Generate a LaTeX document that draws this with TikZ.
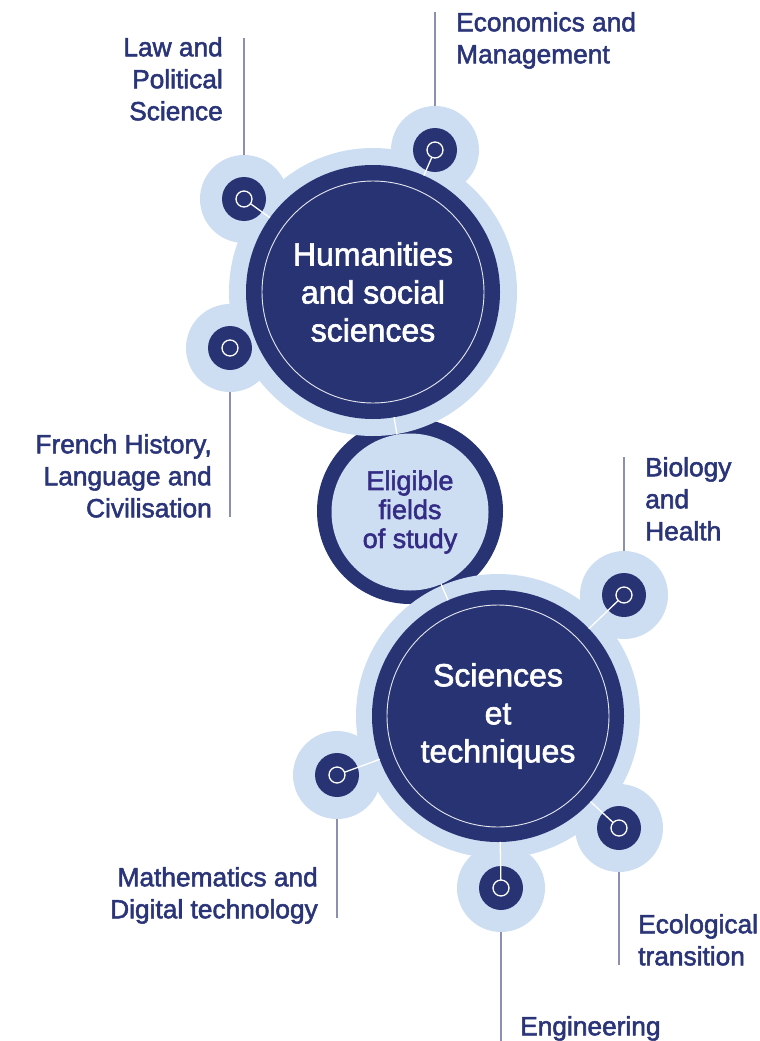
\documentclass[tikz,border=0pt]{standalone}
\usepackage{fontspec}
\setmainfont{Liberation Sans}
\newfontfamily\fieldfont{Liberation Sans}[FakeBold=2]
\usetikzlibrary{positioning}

\definecolor{navy}{RGB}{40,51,116}
\definecolor{paleblue}{RGB}{205,222,243}
\definecolor{leadgrey}{RGB}{138,143,180}
\definecolor{inkblue}{RGB}{42,52,120}
\definecolor{eligink}{RGB}{52,44,132}

\begin{document}
\begin{tikzpicture}[x=1pt, y=-1pt,
    halo/.style={circle, fill=paleblue, inner sep=0pt, outer sep=0pt},
    core/.style={circle, fill=navy, inner sep=0pt, outer sep=0pt},
    dot/.style={circle, draw=white, fill=navy, line width=1.3pt, minimum size=16pt, inner sep=0pt, outer sep=0pt},
    ring/.style={circle, draw=white!88!navy, line width=0.9pt, minimum size=222pt, inner sep=0pt},
    link/.style={draw=white, line width=1.3pt},
    leader/.style={draw=leadgrey, line width=1.6pt},
    field/.style={font=\fieldfont\fontsize{26.3}{32}\selectfont, text=inkblue, inner sep=0pt},
    domaintext/.style={font=\fieldfont\fontsize{32}{38}\selectfont, text=white, align=center}
]
    \useasboundingbox (0,0) rectangle (760,1041);

    % Central circle
    \node[core, minimum size=186pt] (eligout) at (410,511) {};
    \node[halo, minimum size=157pt, align=center, text=eligink,
          font=\fieldfont\fontsize{27}{29}\selectfont] (eligin) at (410,512) {Eligible\\fields\\of study};

    % Halos
    \node[halo, minimum size=288pt] (humhalo) at (373,292) {};
    \node[halo, minimum size=284pt] (scihalo) at (498,716) {};
    \node[halo, minimum size=88pt] (lawhalo) at (244,199) {};
    \node[halo, minimum size=88pt] (ecohalo) at (435,150) {};
    \node[halo, minimum size=88pt] (frhalo) at (230,348) {};
    \node[halo, minimum size=88pt] (biohalo) at (624,595) {};
    \node[halo, minimum size=88pt] (mathhalo) at (337,775) {};
    \node[halo, minimum size=88pt] (enghalo) at (501,888) {};
    \node[halo, minimum size=88pt] (ecolhalo) at (619,828) {};

    % Domains
    \node[core, minimum size=254pt, domaintext] (hum) at (373,292) {Humanities\\and social\\sciences};
    \node[core, minimum size=252pt, domaintext] (sci) at (498,716) {Sciences\\et\\techniques};
    \node[ring] (humring) at (373,292) {};
    \node[ring] (sciring) at (498,716) {};

    % Satellites
    \node[core, minimum size=44pt] (lawcore) at (lawhalo) {};
    \node[core, minimum size=44pt] (ecocore) at (ecohalo) {};
    \node[core, minimum size=44pt] (frcore) at (frhalo) {};
    \node[core, minimum size=44pt] (biocore) at (biohalo) {};
    \node[core, minimum size=44pt] (mathcore) at (mathhalo) {};
    \node[core, minimum size=44pt] (engcore) at (enghalo) {};
    \node[core, minimum size=44pt] (ecolcore) at (ecolhalo) {};

    % Links
    \draw[link] (hum) -- (eligin);
    \draw[link] (eligin) -- (sci);
    \draw[link] (lawcore.center) -- (hum);
    \draw[link] (ecocore.center) -- (hum);
    \draw[link] (biocore.center) -- (sci);
    \draw[link] (mathcore.center) -- (sci);
    \draw[link] (engcore.center) -- (sci);
    \draw[link] (ecolcore.center) -- (sci);

    \node[dot] (lawdot) at (lawcore) {};
    \node[dot] (ecodot) at (ecocore) {};
    \node[dot] (frdot) at (frcore) {};
    \node[dot] (biodot) at (biocore) {};
    \node[dot] (mathdot) at (mathcore) {};
    \node[dot] (engdot) at (engcore) {};
    \node[dot] (ecoldot) at (ecolcore) {};

    % Leaders
    \coordinate (lawend) at (244,38);
    \coordinate (ecoend) at (435,12);
    \coordinate (frend) at (230,517);
    \coordinate (bioend) at (624,457);
    \coordinate (mathend) at (337,918);
    \coordinate (engend) at (501,1041);
    \coordinate (ecolend) at (619,965);
    \draw[leader] (lawhalo.north) -- (lawend);
    \draw[leader] (ecohalo.north) -- (ecoend);
    \draw[leader] (frhalo.south) -- (frend);
    \draw[leader] (biohalo.north) -- (bioend);
    \draw[leader] (mathhalo.south) -- (mathend);
    \draw[leader] (enghalo.south) -- (engend);
    \draw[leader] (ecolhalo.south) -- (ecolend);

    % Labels
    \node[field, anchor=north east, align=right] (law) at (223,37) {Law and\\Political\\Science};
    \node[field, anchor=north west, align=left] (eco) at (456,12) {Economics and\\Management};
    \node[field, anchor=north east, align=right] (fr) at (212,434) {French History,\\Language and\\Civilisation};
    \node[field, anchor=north west, align=left] (bio) at (645,457) {Biology\\and\\Health};
    \node[field, anchor=north east, align=right] (math) at (318,867) {Mathematics and\\Digital technology};
    \node[field, anchor=north west, align=left] (ecol) at (638,914) {Ecological\\transition};
    \node[field, anchor=north west, align=left] (eng) at (520,1016) {Engineering};
\end{tikzpicture}
\end{document}
